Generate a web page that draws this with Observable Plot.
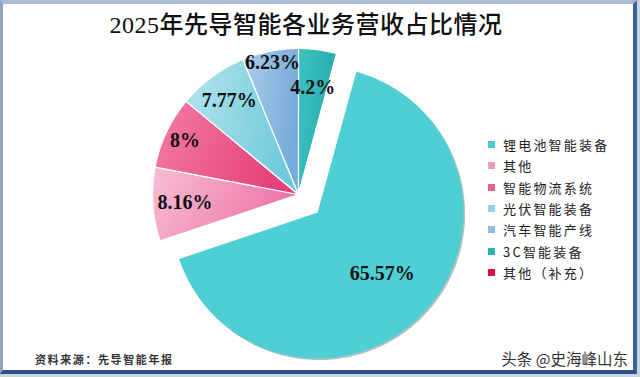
<!DOCTYPE html>
<html><head><meta charset="utf-8">
<script src="https://cdn.jsdelivr.net/npm/d3@7"></script>
<script src="https://cdn.jsdelivr.net/npm/@observablehq/plot@0.6"></script>
<style>
body{margin:0;background:#fff;}
#frame{position:relative;width:640px;height:377px;overflow:hidden;background:#c9d3e0;font-family:"Noto Sans CJK SC",sans-serif;}
#panel{position:absolute;left:0;top:0;width:630px;height:366px;background:#fff;border-top:4px solid #a9bbd3;border-left:3px solid #8ea4c2;border-right:4px solid #3a629b;border-bottom:4px solid #2c4f88;}
#title{position:absolute;left:0;top:5px;width:612px;text-align:center;font-family:"Liberation Serif","Noto Sans CJK SC",serif;font-size:24px;font-weight:500;color:#111;letter-spacing:0.5px;white-space:nowrap;}
#chart{position:absolute;left:0;top:40px;}
#legend{position:absolute;left:488px;top:134px;}
.item{height:21.3px;display:flex;align-items:center;font-size:13px;letter-spacing:2.2px;color:#222;white-space:nowrap;}
.sw{width:7px;height:7px;margin-right:8px;flex:none;}
#caption{position:absolute;left:35px;top:351px;font-size:11px;font-weight:700;letter-spacing:1.6px;color:#333;white-space:nowrap;}
#mark{position:absolute;right:12px;top:347px;font-size:15.5px;color:#333;text-shadow:0 0 2px #fff;white-space:nowrap;}
</style></head>
<body>
<div id="frame">
  <div id="panel"></div>
  <div id="title"></div>
  <div id="chart"></div>
  <div id="legend"></div>
  <div id="caption"></div>
  <div id="mark"></div>
</div>
<script>
// ---- data ----
const titleText = "2025年先导智能各业务营收占比情况";
const names = ["锂电池智能装备", "其他", "智能物流系统", "光伏智能装备", "汽车智能产线", "3C智能装备", "其他（补充）"];
const values = [65.57, 8.16, 8, 7.77, 6.23, 4.2, 0.07];
const valueLabels = ["65.57%", "8.16%", "8%", "7.77%", "6.23%", "4.2%", ""];
const legendColors = ["#4ccbd0", "#f29cc1", "#e8628c", "#8fd5e2", "#8cbde3", "#2db3b5", "#e0123c"];
const captionText = "资料来源：先导智能年报";
const watermark = "头条 @史海峰山东";

// ---- style ----
const firstSliceAngle = 15.4; // degrees clockwise from 12 o'clock
const explode = 0.18;          // fraction of radius for the first slice
const labelRadius = [0.61, 0.78, 0.86, 0.80, 0.92, 0.74, 0];
const sliceFills = ["#4fced3", "url(#g1)", "url(#g2)", "url(#g3)", "url(#g4)", "url(#g5)", "#e0123c"];

const total = d3.sum(values);
let acc = firstSliceAngle * Math.PI / 180;
const slices = values.map((v, i) => {
  const a0 = acc, a1 = acc + v / total * 2 * Math.PI;
  acc = a1;
  const mid = (a0 + a1) / 2;
  const off = i === 0 ? explode : 0;
  const ox = off * Math.sin(mid), oy = off * Math.cos(mid);
  const n = Math.max(2, Math.ceil((a1 - a0) / (Math.PI / 360)));
  const pts = [{x: ox, y: oy}];
  for (let k = 0; k <= n; k++) {
    const a = a0 + (a1 - a0) * k / n;
    pts.push({x: ox + Math.sin(a), y: oy + Math.cos(a)});
  }
  const lr = labelRadius[i];
  return {i, name: names[i], pts, label: valueLabels[i], lx: ox + lr * Math.sin(mid), ly: oy + lr * Math.cos(mid)};
});

const cx = 298, cy = 154, R = 146;
const marks = [];
// shadow of the exploded slice
marks.push(Plot.line(slices[0].pts, {x: "x", y: "y", curve: "linear-closed", fill: "#b4c1c4", stroke: "none", dx: 1.5, dy: 1.5}));
slices.forEach(s => {
  marks.push(Plot.line(s.pts, {x: "x", y: "y", curve: "linear-closed", fill: sliceFills[s.i],
    stroke: s.i === 0 ? "none" : "#ffffff", strokeWidth: 1.2, strokeLinejoin: "round"}));
});
marks.push(Plot.text(slices.filter(s => s.label), {x: "lx", y: "ly", text: "label",
  fontFamily: "Liberation Serif, serif", fontWeight: "bold", fontSize: 20, fill: "#111"}));

const svg = Plot.plot({
  width: 640, height: 330,
  marginTop: 0, marginBottom: 0, marginLeft: 0, marginRight: 0,
  x: {domain: [-1, 1], range: [cx - R, cx + R], axis: null},
  y: {domain: [-1, 1], range: [cy + R, cy - R], axis: null},
  style: {background: "transparent", overflow: "visible"},
  marks
});

const defs = d3.select(svg).insert("defs", ":first-child");
const grads = [
  ["g1", "#f8bfd6", "#ee74a6"],
  ["g2", "#f37ea2", "#e6407a"],
  ["g3", "#b4e5ee", "#70cadb"],
  ["g4", "#aecde9", "#76abdb"],
  ["g5", "#3bc2c1", "#26acae"]
];
grads.forEach(([id, c0, c1]) => {
  const g = defs.append("linearGradient").attr("id", id).attr("x1", 0).attr("y1", 0).attr("x2", 1).attr("y2", 0.3);
  g.append("stop").attr("offset", "0%").attr("stop-color", c0);
  g.append("stop").attr("offset", "100%").attr("stop-color", c1);
});
document.getElementById("chart").appendChild(svg);

document.getElementById("title").textContent = titleText;
document.getElementById("caption").textContent = captionText;
document.getElementById("mark").textContent = watermark;
const leg = d3.select("#legend");
names.forEach((n, i) => {
  const it = leg.append("div").attr("class", "item");
  it.append("div").attr("class", "sw").style("background", legendColors[i]);
  it.append("span").text(n);
});
</script>
</body></html>
